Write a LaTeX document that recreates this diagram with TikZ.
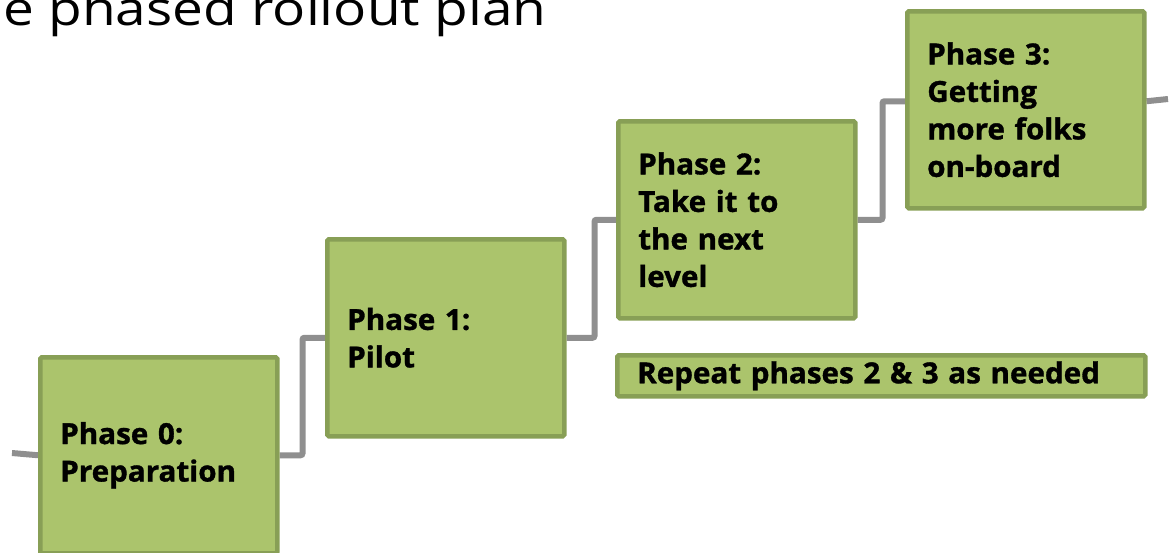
\documentclass[tikz,border=0pt]{standalone}
\usepackage{fontspec}
\setmainfont{Open Sans}
\newfontfamily\titlefont[FakeStretch=1.17]{Open Sans}
\newfontfamily\boxfont[BoldFeatures={FakeBold=1.2,FakeStretch=1.02}]{Open Sans}
\definecolor{boxfill}{HTML}{ABC46C}
\definecolor{boxedge}{HTML}{889F56}
\definecolor{linkgray}{HTML}{8F8F8F}
\pgfdeclarelayer{bg}
\pgfsetlayers{bg,main}
\begin{document}
\begin{tikzpicture}[x=1pt,y=-1pt,
  phase/.style={draw=boxedge, fill=boxfill, line width=4.5pt, rounded corners=1.5pt,
    anchor=north west, minimum width=237pt, minimum height=197pt,
    inner xsep=20pt, text width=197pt, align=left,
    font=\boxfont\bfseries\fontsize{29}{37.5}\selectfont},
  link/.style={draw=linkgray, line width=6pt, rounded corners=2pt}]
\useasboundingbox (0,0) rectangle (1176,552);
\node[anchor=base west, font=\titlefont\fontsize{47}{50}\selectfont, inner sep=0pt] (title) at (3,25) {e phased rollout plan};
\node[phase, minimum height=196pt] (p0) at (38,355) {Phase 0:\\Preparation};
\node[phase] (p1) at (325,237) {Phase 1:\\Pilot};
\node[phase] (p2) at (616,119) {Phase 2:\\Take it to\\the next\\level};
\node[phase] (p3) at (905,9) {Phase 3:\\Getting\\more folks\\on-board};
\node[phase, minimum width=528pt, minimum height=41pt, text width=488pt] (rep) at (615,353) {Repeat phases 2 \& 3 as needed};
\coordinate (in) at (12,453);
\coordinate (out) at (1168,99);
\begin{pgfonlayer}{bg}
\draw[link] (in) -- (p0.west);
\draw[link] (p0.east) -- ++(23,0) |- (p1.west);
\draw[link] (p1.east) -- ++(28,0) |- (p2.west);
\draw[link] (p2.east) -- ++(25,0) |- ([yshift=8.5pt]p3.west);
\draw[link] ([yshift=8.5pt]p3.east) -- (out);
\end{pgfonlayer}
\end{tikzpicture}
\end{document}
